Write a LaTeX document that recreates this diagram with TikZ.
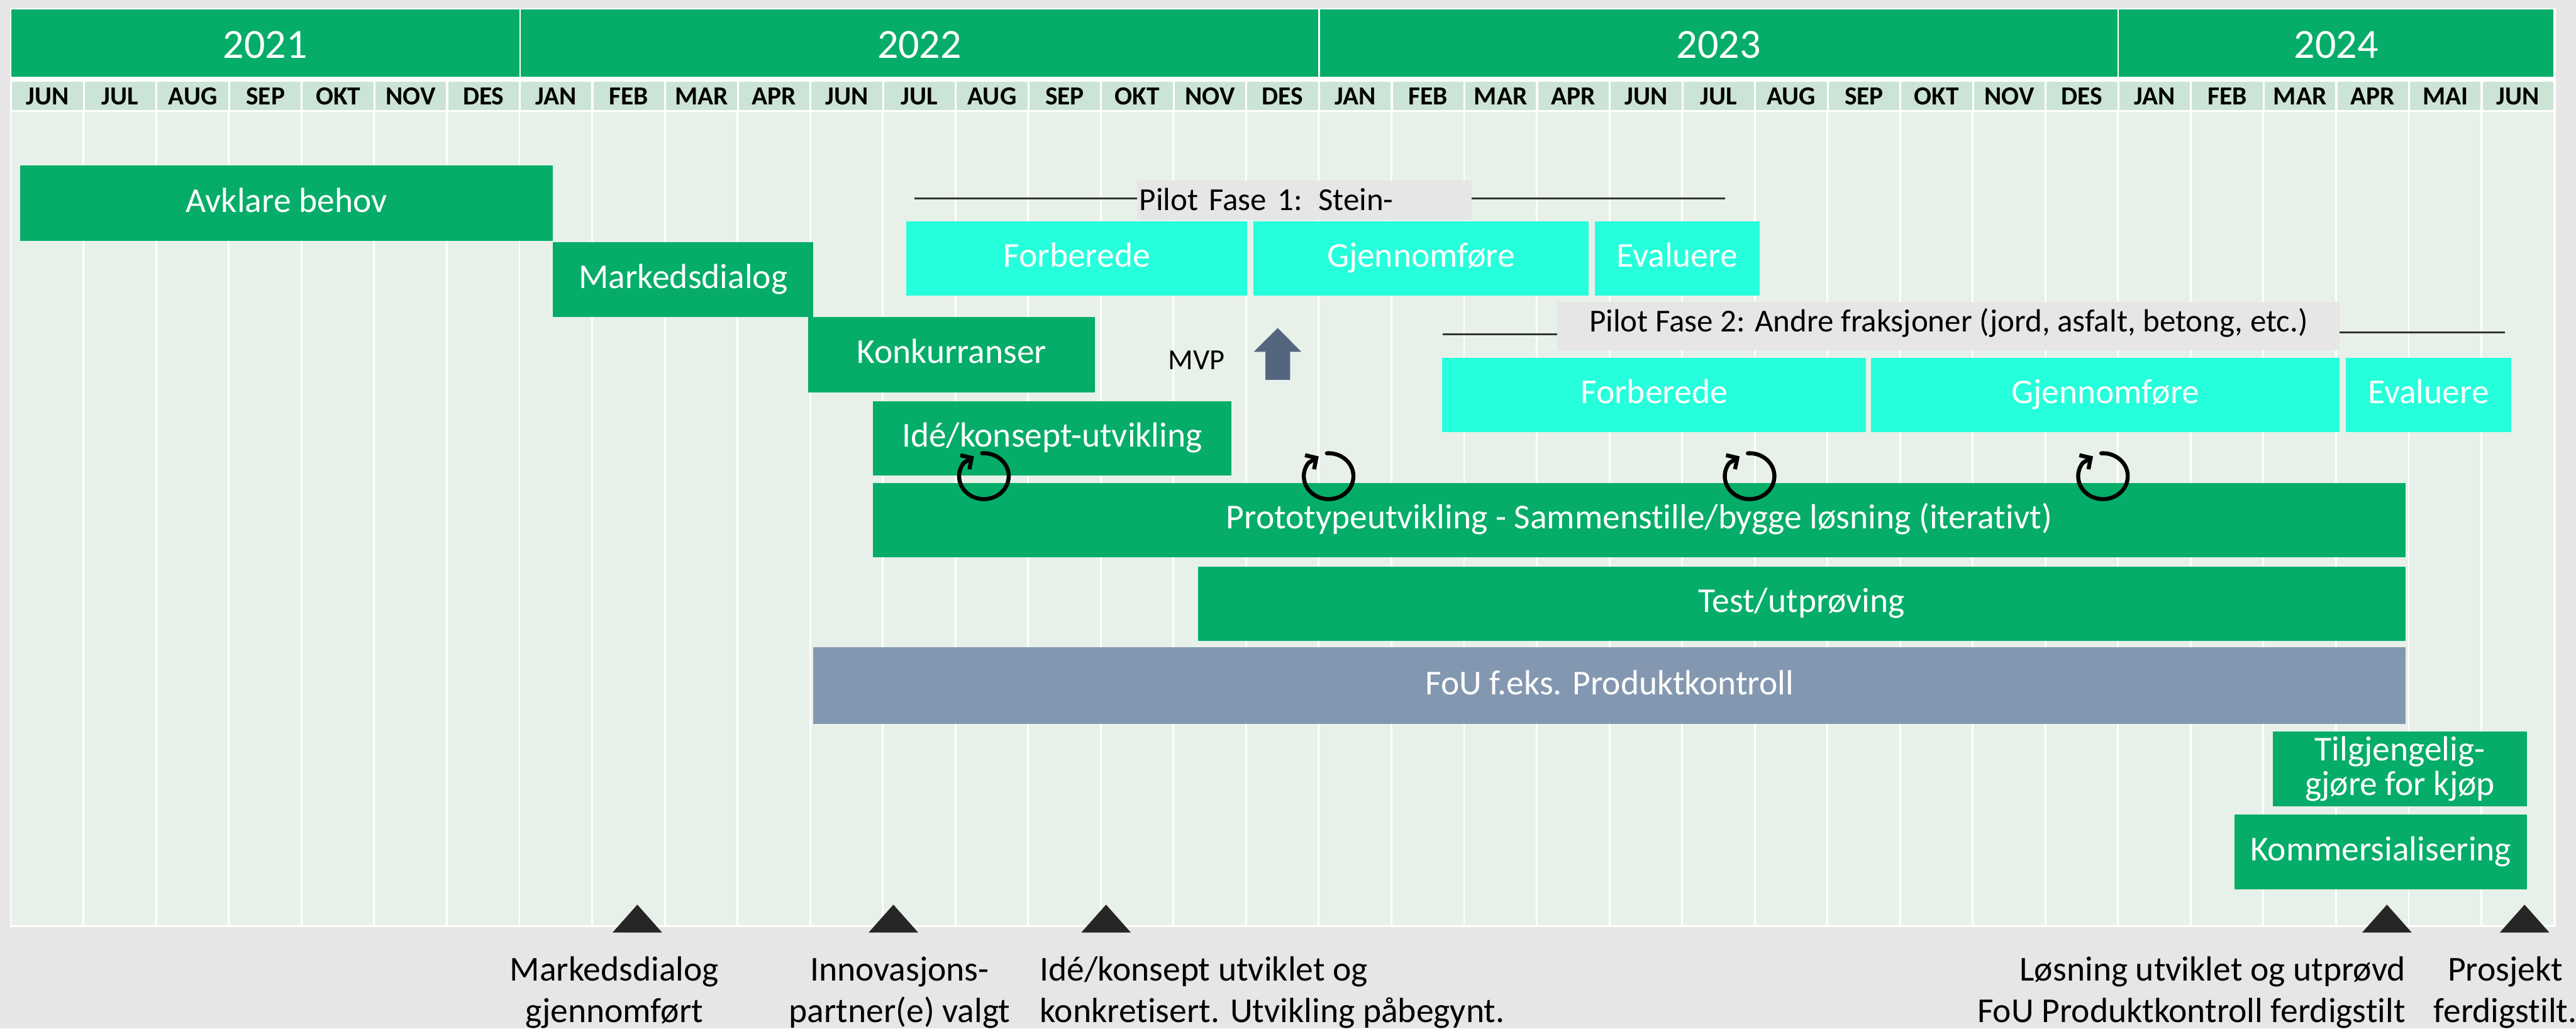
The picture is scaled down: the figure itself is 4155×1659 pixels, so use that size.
\documentclass[tikz,border=0pt]{standalone}
\usepackage{fontspec}
\setmainfont[Ligatures=NoCommon]{Carlito}
\usetikzlibrary{arrows.meta}

\definecolor{pagegray}{HTML}{E6E6E6}
\definecolor{bargreen}{HTML}{05AD68}
\definecolor{headgreen}{HTML}{CCE4D6}
\definecolor{bodygreen}{HTML}{E7F1E9}
\definecolor{pilotcyan}{HTML}{25FFDB}
\definecolor{foublue}{HTML}{8497B0}
\definecolor{mvpblue}{HTML}{54667F}
\definecolor{markdark}{HTML}{262626}

\tikzset{
    box/.style={inner sep=0pt, outer sep=0pt, text height=38pt, text depth=10pt, align=center},
    yearbox/.style={box, fill=bargreen, text=white, minimum height=109pt, font=\fontsize{67}{70}\selectfont, text height=48pt, text depth=0pt},
    monthbox/.style={box, fill=headgreen, text=black, minimum width=114pt, minimum height=46pt, font=\bfseries\fontsize{42}{44}\selectfont, text height=27pt, text depth=0pt},
    greenbar/.style={box, fill=bargreen, text=white, minimum height=120pt, font=\fontsize{56.3}{67}\selectfont},
    pilotbar/.style={box, fill=pilotcyan, text=white, minimum height=120pt, font=\fontsize{56.3}{67}\selectfont},
    pilotlabel/.style={box, fill=pagegray, text=black, font=\fontsize{51.7}{60}\selectfont},
    pilotline/.style={line width=2.5pt, draw=black!80},
    milestone/.style={inner sep=0pt, outer sep=0pt, text=black, align=center, font=\fontsize{56.4}{67}\selectfont, anchor=base},
    loopmark/.style={line width=6.5pt, -{Straight Barb[length=13pt,width=27pt]}, line cap=round},
}

\begin{document}
\begin{tikzpicture}[x=1pt,y=-1pt]
    \useasboundingbox (0,0) rectangle (4155,1659);
    \fill[pagegray] (0,0) rectangle (4155,1659);
    \fill[white] (16,13) rectangle (4122,1495);
    \fill[bodygreen] (18,181) rectangle (4120,1492);

    % Years
    \node[yearbox, minimum width=820pt] (y2021) at (428,69.5) {2021};
    \node[yearbox, minimum width=1286pt] (y2022) at (1483,69.5) {2022};
    \node[yearbox, minimum width=1286pt] (y2023) at (2772,69.5) {2023};
    \node[yearbox, minimum width=701pt] (y2024) at (3768,69.5) {2024};

    % Months and grid
    \foreach \m [count=\i from 0] in {JUN,JUL,AUG,SEP,OKT,NOV,DES,JAN,FEB,MAR,APR,JUN,JUL,AUG,SEP,OKT,NOV,DES,JAN,FEB,MAR,APR,JUN,JUL,AUG,SEP,OKT,NOV,DES,JAN,FEB,MAR,APR,MAI,JUN} {
        \node[monthbox] (m\i) at ({76.6+117.2*\i},155) {\m};
        \draw[white, line width=3pt] ({134.7+117.2*\i},181) -- ({134.7+117.2*\i},1492);
    }

    % Bars
    \node[greenbar, minimum width=860pt, minimum height=122pt] (avklare) at (462,328) {Avklare behov};
    \node[greenbar, minimum width=420pt] (dialog) at (1102,451) {Markedsdialog};
    \node[greenbar, minimum width=462pt, minimum height=122pt] (konkurranser) at (1535,572) {Konkurranser};
    \node[greenbar, minimum width=578pt] (ide) at (1697,707) {Idé/konsept-utvikling};
    \node[greenbar, minimum width=2472pt] (prototype) at (2644,839) {Prototypeutvikling - Sammenstille/bygge løsning (iterativt)};
    \node[greenbar, minimum width=1948pt] (test) at (2906,974) {Test/utprøving};
    \node[greenbar, fill=foublue, minimum width=2568pt, minimum height=124pt] (fou) at (2596,1106) {FoU f.eks. Produktkontroll};
    \node[greenbar, minimum width=410pt, text height=, text depth=, font=\fontsize{56.3}{56}\selectfont] (kjop) at (3871,1240) {Tilgjengelig-\\gjøre for kjøp};
    \node[greenbar, minimum width=472pt] (kommersiell) at (3840,1374) {Kommersialisering};

    % Pilot 1
    \coordinate (pilotAleft) at (1475,320);
    \coordinate (pilotAright) at (2782,320);
    \draw[pilotline] (pilotAleft) -- (pilotAright);
    \node[pilotlabel, minimum height=64pt, text width=532pt, inner xsep=4pt, align=left, text depth=6pt] (pilotA) at (2104,323) {Pilot Fase 1: Steinmasser};
    \node[pilotbar, minimum width=550pt] (forberedeA) at (1737,417) {Forberede};
    \node[pilotbar, minimum width=540pt] (gjennomA) at (2292,417) {Gjennomføre};
    \node[pilotbar, minimum width=266pt] (evaluereA) at (2705,417) {Evaluere};

    % Pilot 2
    \coordinate (pilotBleft) at (2327,539);
    \coordinate (pilotBright) at (4040,536);
    \node[pilotlabel, minimum width=1262pt, minimum height=78pt, text depth=20pt] (pilotB) at (3143,526) {Pilot Fase 2: Andre fraksjoner (jord, asfalt, betong, etc.)};
    \draw[pilotline] (pilotBleft) -- (pilotB.west |- pilotBleft);
    \draw[pilotline] (pilotB.east |- pilotBright) -- (pilotBright);
    \node[pilotbar, minimum width=684pt] (forberedeB) at (2668,637) {Forberede};
    \node[pilotbar, minimum width=756pt] (gjennomB) at (3396,637) {Gjennomføre};
    \node[pilotbar, minimum width=266pt] (evaluereB) at (3917,637) {Evaluere};

    % MVP
    \node[inner sep=0pt, font=\fontsize{47}{50}\selectfont, anchor=base] (mvp) at (1930,596) {MVP};
    \fill[mvpblue] (2061,529) -- (2099,567.5) -- (2081,567.5) -- (2081,612.5) -- (2041,612.5) -- (2041,567.5) -- (2022,567.5) -- cycle;

    % Iterations
    \foreach \x in {1587,2143,2822,3392} {
        \draw[loopmark] (\x,768) ++(-94:40 and 37) arc[start angle=-94, end angle=215, x radius=40, y radius=37] -- (\x-16,736);
    }

    % Milestones
    \foreach \x in {1028,1441,1784,3850,4072} {
        \fill[markdark] (\x,1459) -- (\x+40,1504) -- (\x-40,1504) -- cycle;
    }
    \node[milestone] (msA) at (991,1649) {Markedsdialog\\gjennomført};
    \node[milestone] (msB) at (1451,1649) {Innovasjons-\\partner(e) valgt};
    \node[milestone, align=left] (msC) at (2052,1649) {Idé/konsept utviklet og\\konkretisert. Utvikling påbegynt.};
    \node[milestone, align=right, anchor=base east] (msD) at (3880,1649) {Løsning utviklet og utprøvd\\FoU Produktkontroll ferdigstilt};
    \node[milestone] (msE) at (4041,1649) {Prosjekt\\ferdigstilt.};

\end{tikzpicture}
\end{document}
